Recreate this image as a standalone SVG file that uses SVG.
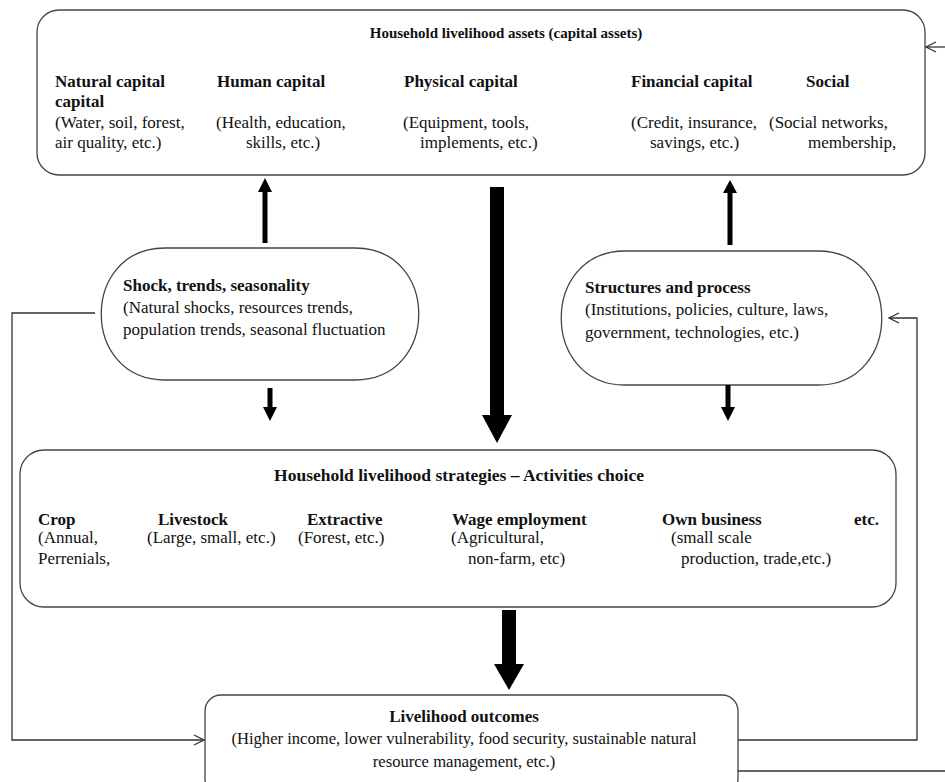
<svg xmlns="http://www.w3.org/2000/svg" width="945" height="782" viewBox="0 0 945 782">
<style>
.box{fill:#fff;stroke:#444;stroke-width:1.3}
text{font-family:"Liberation Serif","Times New Roman",serif;font-size:17px;fill:#111}
.b{font-weight:bold}
.c{text-anchor:middle}
.t{font-size:15px}
.blk{fill:#000}
.ln{fill:none;stroke:#333;stroke-width:1.3}
</style>
<defs>
<marker id="open" viewBox="0 0 12 12" refX="11" refY="6" markerWidth="12" markerHeight="12" markerUnits="userSpaceOnUse" orient="auto">
<path d="M1,1 L11,6 L1,11" fill="none" stroke="#333" stroke-width="1.3"/>
</marker>
</defs>
<rect width="945" height="782" fill="#fff"/>

<g id="assets">
<rect class="box" x="37" y="10" width="888" height="165" rx="22"/>
<text class="b c t" x="506" y="38">Household livelihood assets (capital assets)</text>
<text class="b" x="55" y="87">Natural capital</text>
<text class="b" x="55" y="107">capital</text>
<text x="55" y="128">(Water, soil, forest,</text>
<text x="55" y="148">air quality, etc.)</text>
<text class="b" x="217" y="87">Human capital</text>
<text x="216" y="128">(Health, education,</text>
<text x="246" y="148">skills, etc.)</text>
<text class="b" x="404" y="87">Physical capital</text>
<text x="403" y="128">(Equipment, tools,</text>
<text x="420" y="148">implements, etc.)</text>
<text class="b" x="631" y="87">Financial capital</text>
<text x="631" y="128">(Credit, insurance,</text>
<text x="650" y="148">savings, etc.)</text>
<text class="b" x="806" y="87">Social</text>
<text x="769" y="128">(Social networks,</text>
<text x="808" y="148">membership,</text>
</g>

<g id="shock">
<path class="box" d="M165,248 L355,248 C440,248 440,380 355,380 L165,380 C80,380 80,248 165,248 Z"/>
<text class="b" x="123" y="291">Shock, trends, seasonality</text>
<text x="123" y="313">(Natural shocks, resources trends,</text>
<text x="123" y="335">population trends, seasonal fluctuation</text>
</g>

<g id="structures">
<path class="box" d="M625,251 L818,251 C903,251 903,385 818,385 L625,385 C540,385 540,251 625,251 Z"/>
<text class="b" x="585" y="293">Structures and process</text>
<text x="585" y="315">(Institutions, policies, culture, laws,</text>
<text x="585" y="338">government, technologies, etc.)</text>
</g>

<g id="strategies">
<rect class="box" x="20" y="450" width="876" height="157" rx="24"/>
<text class="b c" x="459" y="481" style="font-size:17.5px">Household livelihood strategies – Activities choice</text>
<text class="b" x="38" y="525">Crop</text>
<text x="38" y="543">(Annual,</text>
<text x="38" y="564">Perrenials,</text>
<text class="b" x="158" y="525">Livestock</text>
<text x="147" y="543">(Large, small, etc.)</text>
<text class="b" x="307" y="525">Extractive</text>
<text x="298" y="543">(Forest, etc.)</text>
<text class="b" x="452" y="525">Wage employment</text>
<text x="451" y="543">(Agricultural,</text>
<text x="468" y="564">non-farm, etc)</text>
<text class="b" x="662" y="525">Own business</text>
<text x="671" y="543">(small scale</text>
<text x="681" y="564">production, trade,etc.)</text>
<text class="b" x="879" y="525" text-anchor="end">etc.</text>
</g>

<g id="outcomes">
<rect class="box" x="205" y="695" width="533" height="100" rx="16"/>
<text class="b c" x="464" y="722">Livelihood outcomes</text>
<text class="c" x="464" y="744" style="font-size:16.6px">(Higher income, lower vulnerability, food security, sustainable natural</text>
<text class="c" x="464" y="767" style="font-size:16.6px">resource management, etc.)</text>
</g>

<g id="connectors">
<path class="blk" d="M262.5,243 L262.5,192 L258,192 L265,178 L272,192 L267.5,192 L267.5,243 Z"/>
<path class="blk" d="M727.5,245 L727.5,193 L723,193 L730,180 L737,193 L732.5,193 L732.5,245 Z"/>
<path class="blk" d="M490,187 L504,187 L504,415 L512,415 L497,443 L482,415 L490,415 Z"/>
<path class="blk" d="M267.5,388 L272.5,388 L272.5,407 L277,407 L270,421 L263,407 L267.5,407 Z"/>
<path class="blk" d="M725.5,385 L730.5,385 L730.5,407 L735,407 L728,421 L721,407 L725.5,407 Z"/>
<path class="blk" d="M502,610 L516,610 L516,664 L524,664 L509,690 L494,664 L502,664 Z"/>
<path class="ln" d="M95,313 L12,313 L12,740 L204,740" marker-end="url(#open)"/>
<path class="ln" d="M738,740 L917,740 L917,318 L889,318" marker-end="url(#open)"/>
<path class="ln" d="M738,771 L945,771"/>
<path class="ln" d="M945,47 L926,47" marker-end="url(#open)"/>
</g>
</svg>
